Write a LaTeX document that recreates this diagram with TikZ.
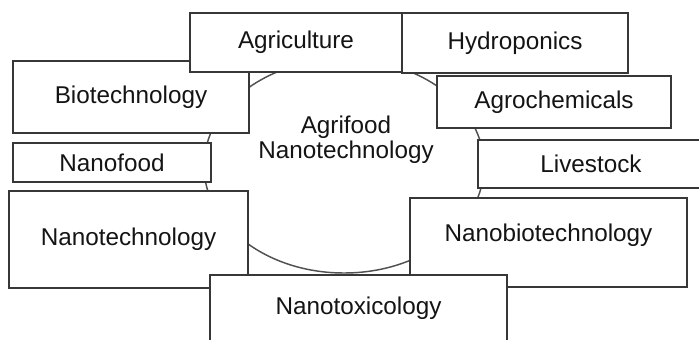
\documentclass[tikz,border=0pt]{standalone}
\usepackage{fontspec}
\setmainfont{Liberation Sans}
\tikzset{every picture/.style={line width=0.75pt}}
\tikzset{
  box/.style={draw={rgb,255:red,55;green,55;blue,55}, line width=1.3pt, fill=white,
    inner sep=0pt, text={rgb,255:red,20;green,20;blue,20},
    font=\fontsize{18.2}{21}\selectfont},
  ring/.style={draw={rgb,255:red,80;green,80;blue,80}, line width=1.1pt}
}

\begin{document}
\begin{tikzpicture}[x=0.75pt,y=0.75pt,yscale=-1]
\useasboundingbox (0,0) rectangle (699,339);
\clip (0,0) rectangle (699,339);

%Shape: Ellipse
\draw [ring] (344,166) ellipse [x radius=140, y radius=107];

% Text Node
\node [align=center, font=\fontsize{18.2}{18.75}\selectfont, text={rgb,255:red,20;green,20;blue,20}] (centre) at (346,140) {Agrifood\\Nanotechnology};

%Shape: Rectangle
\node [box, minimum width=177pt, minimum height=54pt] (biotech) at (131,97) {Biotechnology};
%Shape: Rectangle
\node [box, minimum width=159pt, minimum height=44.25pt] (agri) at (296,42.5) {Agriculture};
%Shape: Rectangle
\node [box, minimum width=169.5pt, minimum height=45pt] (hydro) at (515,43) {Hydroponics};
%Shape: Rectangle
\node [box, minimum width=175.5pt, minimum height=39pt] (agrochem) at (554,102) {Agrochemicals};
%Shape: Rectangle
\node [box, minimum width=148.5pt, minimum height=29.25pt] (nanofood) at (112,162.5) {Nanofood};
%Shape: Rectangle
\node [box, minimum width=169.5pt, minimum height=36pt] (livestock) at (591,164) {Livestock};
%Shape: Rectangle
\node [box, minimum width=179.25pt, minimum height=72.75pt] (nanotech) at (128.5,239.5) {Nanotechnology};
%Shape: Rectangle
\node [box, minimum width=207.75pt, minimum height=66.75pt, text depth=14pt] (nanobio) at (548.5,242.5) {Nanobiotechnology};
%Shape: Rectangle
\node [box, minimum width=222.75pt, minimum height=49.5pt] (nanotox) at (358.5,308) {Nanotoxicology};
\end{tikzpicture}
\end{document}
